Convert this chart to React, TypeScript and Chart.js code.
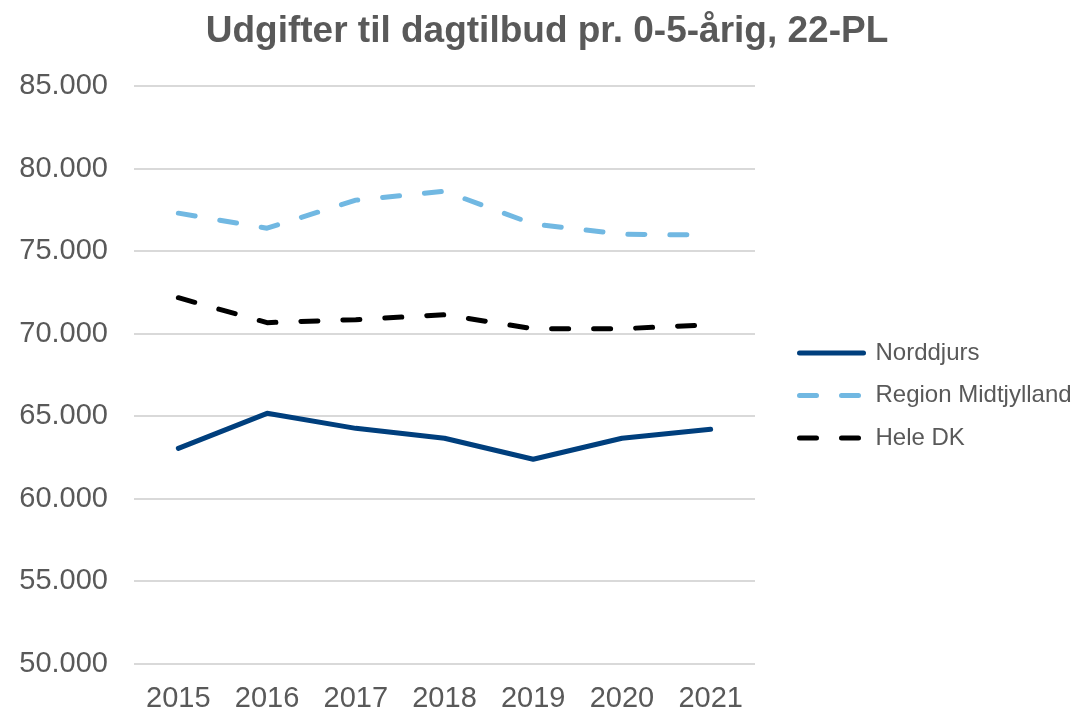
import React, { useEffect, useRef } from "react";
import { Chart, registerables } from "chart.js";

Chart.register(...registerables);

const years = ["2015", "2016", "2017", "2018", "2019", "2020", "2021"];
const norddjurs = [63060, 65180, 64270, 63670, 62400, 63670, 64210];
const regionMidtjylland = [77300, 76390, 78090, 78630, 76640, 76030, 75970];
const heleDK = [72180, 70670, 70850, 71150, 70300, 70300, 70550];

const seriesNames = ["Norddjurs", "Region Midtjylland", "Hele DK"];
const titleText = "Udgifter til dagtilbud pr. 0-5-årig, 22-PL";

const fmt = (v: number) =>
  String(Math.round(v)).replace(/\B(?=(\d{3})+(?!\d))/g, ".");

export default function App() {
  const ref = useRef<HTMLCanvasElement | null>(null);

  useEffect(() => {
    if (!ref.current) return;
    Chart.defaults.font.family = '"Liberation Sans", Arial, sans-serif';
    const defaultGen = Chart.defaults.plugins.legend.labels.generateLabels;
    const chart = new Chart(ref.current, {
      type: "line",
      data: {
        labels: years,
        datasets: [
          {
            label: seriesNames[0],
            data: norddjurs,
            borderColor: "#003f7d",
            backgroundColor: "#003f7d",
            borderWidth: 5,
            borderCapStyle: "round",
            borderJoinStyle: "round",
            pointRadius: 0,
            tension: 0,
          },
          {
            label: seriesNames[1],
            data: regionMidtjylland,
            borderColor: "#71b8e2",
            backgroundColor: "#71b8e2",
            borderWidth: 5,
            borderDash: [17, 25],
            borderCapStyle: "round",
            borderJoinStyle: "round",
            pointRadius: 0,
            tension: 0,
          },
          {
            label: seriesNames[2],
            data: heleDK,
            borderColor: "#000000",
            backgroundColor: "#000000",
            borderWidth: 5,
            borderDash: [17, 25],
            borderCapStyle: "round",
            borderJoinStyle: "round",
            pointRadius: 0,
            tension: 0,
          },
        ],
      },
      options: {
        responsive: false,
        animation: false,
        layout: { padding: { left: 20, right: 0, top: 0, bottom: 0 } },
        plugins: {
          title: {
            display: true,
            text: titleText,
            color: "#595959",
            font: { size: 37, weight: "bold", lineHeight: 1.2 },
            padding: { top: 9.8, bottom: 31.8 },
          },
          legend: {
            position: "right",
            maxWidth: 293,
            title: {
              display: true,
              text: "",
              font: { size: 1 },
              padding: { top: 79.8, bottom: 0 },
            },
            labels: {
              usePointStyle: true,
              pointStyle: "line",
              pointStyleWidth: 64,
              boxWidth: 64,
              padding: 18.5,
              color: "#595959",
              font: { size: 24 },
              generateLabels: (c: any) => {
                const items = defaultGen(c);
                items.forEach((it: any, i: number) => {
                  const ds: any = c.data.datasets[it.datasetIndex ?? i];
                  it.lineDash = ds.borderDash || [];
                  it.lineCap = "round";
                  it.lineWidth = ds.borderWidth;
                  it.strokeStyle = ds.borderColor;
                  it.pointStyle = "line";
                });
                return items;
              },
            },
          },
          tooltip: { enabled: false },
        },
        scales: {
          x: {
            offset: true,
            grid: { display: false, drawTicks: false },
            border: { display: false },
            ticks: {
              color: "#595959",
              font: { size: 29 },
              padding: 17.6,
              maxRotation: 0,
            },
            afterFit: (s: any) => {
              s.height = 46;
            },
          },
          y: {
            min: 50000,
            max: 85000,
            grid: { color: "#d9d9d9", lineWidth: 2, drawTicks: false },
            border: { display: false },
            ticks: {
              stepSize: 5000,
              color: "#595959",
              font: { size: 29 },
              padding: 26,
              callback: (v: any) => fmt(Number(v)),
            },
            afterFit: (s: any) => {
              s.width = 114;
            },
          },
          y2: {
            position: "right",
            display: true,
            grid: { display: false },
            border: { display: false },
            ticks: { display: false },
            afterFit: (s: any) => {
              s.width = 26;
            },
          },
        },
      },
    } as any);
    return () => chart.destroy();
  }, []);

  return (
    <div style={{ position: "fixed", left: 0, top: 0, width: 1074, height: 710 }}>
      <canvas ref={ref} width={1074} height={710} />
    </div>
  );
}
